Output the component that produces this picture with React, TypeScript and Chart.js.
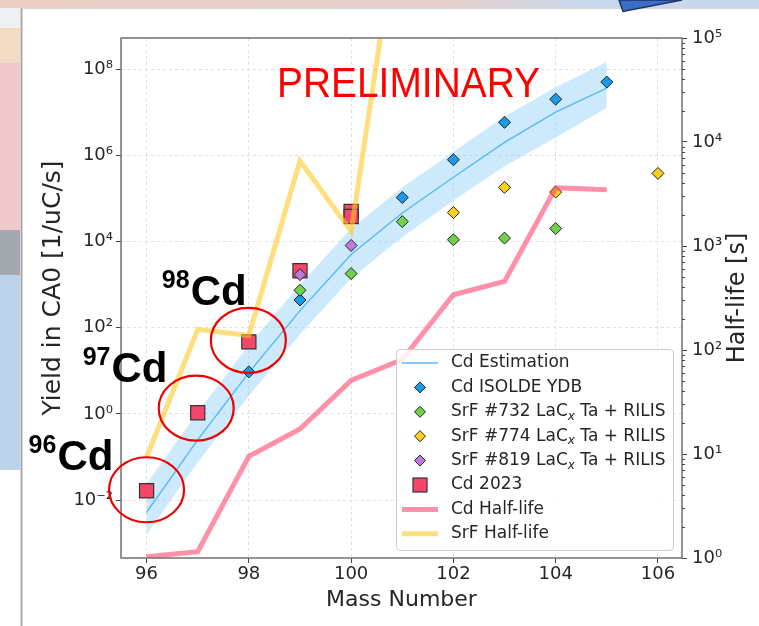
import React, { useEffect, useRef } from 'react';
import { Chart, registerables } from 'chart.js';
Chart.register(...registerables);

// ---------- data ----------
const estMass = [96, 97, 98, 99, 100, 101, 102, 103, 104, 105];
const estYield = [5.2e-3, 0.25, 9.1, 250, 5.0e3, 4.6e4, 3.1e5, 2.0e6, 1.0e7, 3.6e7];
const estHigh = [0.024, 1.1, 40, 1000, 2.0e4, 1.8e5, 1.2e6, 7.9e6, 3.8e7, 1.45e8];
const estLow = [1.6e-3, 0.076, 2.6, 71, 1.4e3, 1.26e4, 8.9e4, 5.6e5, 2.6e6, 1.26e7];

const ydbMass = [98, 99, 101, 102, 103, 104, 105];
const ydbYield = [9.5, 440, 1.05e5, 7.9e5, 5.8e6, 2.0e7, 5.0e7];

const srf732Mass = [99, 100, 101, 102, 103, 104];
const srf732Yield = [740, 1.8e3, 2.9e4, 1.1e4, 1.2e4, 2.0e4];

const srf774Mass = [102, 103, 104, 106];
const srf774Yield = [4.7e4, 1.8e5, 1.4e5, 3.8e5];

const srf819Mass = [99, 100];
const srf819Yield = [1.7e3, 8.1e3];

const cd2023Mass = [96, 97, 98, 99, 100, 100];
const cd2023Yield = [0.0166, 1.07, 47, 2.1e3, 5.0e4, 3.8e4];

const cdHlMass = [96, 97, 98, 99, 100, 101, 102, 103, 104, 105];
const cdHalfLife = [1.03, 1.15, 9.5, 17.4, 51, 81, 340, 457, 3630, 3470];

const srfHlMass = [96, 97, 98, 99, 100, 101];
const srfHalfLife = [9.3, 158, 138, 6600, 1380, 2.5e6];

const massTicks = [96, 98, 100, 102, 104, 106];
const yieldTicks = [1e-2, 1, 1e2, 1e4, 1e6, 1e8];
const yieldTickLabels = ['10⁻²', '10⁰', '10²', '10⁴', '10⁶', '10⁸'];
const hlTicks = [1, 10, 100, 1e3, 1e4, 1e5];
const hlTickLabels = ['10⁰', '10¹', '10²', '10³', '10⁴', '10⁵'];

const highlightedMasses = [96, 97, 98];
const highlightLabels = ['96', '97', '98'];

// ---------- styling ----------
const FONT = "'DejaVu Sans', sans-serif";
const TXT = '#262626';

function pts(xs: number[], ys: number[]) {
  return xs.map((x, i) => ({ x, y: ys[i] }));
}

export default function App() {
  const ref = useRef<HTMLCanvasElement>(null);

  useEffect(() => {
    const canvas = ref.current!;

    const overlay = {
      id: 'overlay',
      beforeDraw(chart: any) {
        const ctx = chart.ctx as CanvasRenderingContext2D;
        const W = chart.width, H = chart.height;
        ctx.save();
        ctx.fillStyle = '#ffffff';
        ctx.fillRect(0, 0, W, H);
        // slide surroundings
        const g = ctx.createLinearGradient(0, 0, W, 0);
        g.addColorStop(0, '#eccfc6');
        g.addColorStop(0.6, '#e6d0cc');
        g.addColorStop(0.76, '#c9d8ec');
        g.addColorStop(1, '#c6d7ee');
        ctx.fillStyle = g;
        ctx.fillRect(0, 0, W, 8);
        const segs: [number, number, string][] = [
          [8, 28, '#eef0f2'], [28, 63, '#f2dcc4'], [63, 230, '#efc9ca'],
          [230, 275, '#a4a9b0'], [275, 470, '#bcd3ec'],
        ];
        for (const [a, b, c] of segs) {
          ctx.fillStyle = c;
          ctx.fillRect(0, a, 20, b - a);
        }
        ctx.fillStyle = '#a8a8a8';
        ctx.fillRect(20.5, 8, 2, H - 8);
        ctx.fillStyle = '#d8d8d8';
        ctx.fillRect(22, 8, W - 22, 1);
        ctx.beginPath();
        ctx.moveTo(619, 0);
        ctx.lineTo(623, 11.5);
        ctx.lineTo(682, 0);
        ctx.closePath();
        ctx.fillStyle = '#3d6cc4';
        ctx.fill();
        ctx.strokeStyle = '#1d3565';
        ctx.lineWidth = 1.5;
        ctx.stroke();
        ctx.restore();
      },
      afterDraw(chart: any) {
        const ctx = chart.ctx as CanvasRenderingContext2D;
        const A = chart.chartArea;
        const xS = chart.scales.x, yS = chart.scales.y, y2S = chart.scales.y2;
        ctx.save();

        // frame
        ctx.strokeStyle = '#707070';
        ctx.lineWidth = 1.5;
        ctx.strokeRect(A.left, A.top, A.right - A.left, A.bottom - A.top);

        // minor ticks on right axis
        ctx.strokeStyle = '#444';
        ctx.lineWidth = 1;
        for (let d = 0; d < 5; d++) {
          for (let m = 2; m <= 9; m++) {
            const yy = Math.round(y2S.getPixelForValue(m * Math.pow(10, d))) + 0.5;
            ctx.beginPath();
            ctx.moveTo(A.right, yy);
            ctx.lineTo(A.right + 3, yy);
            ctx.stroke();
          }
        }

        // axis titles
        ctx.fillStyle = TXT;
        ctx.textAlign = 'center';
        ctx.textBaseline = 'alphabetic';
        ctx.font = `22px ${FONT}`;
        ctx.fillText('Mass Number', (A.left + A.right) / 2, 606);
        ctx.font = `25px ${FONT}`;
        ctx.save();
        ctx.translate(60, 288);
        ctx.rotate(-Math.PI / 2);
        ctx.fillText('Yield in CA0 [1/uC/s]', 0, 0);
        ctx.restore();
        ctx.font = `24px ${FONT}`;
        ctx.save();
        ctx.translate(744, 298);
        ctx.rotate(-Math.PI / 2);
        ctx.fillText('Half-life [s]', 0, 0);
        ctx.restore();

        // legend
        const bw = 277, bh = 201;
        const bx = A.right - 9 - bw, by = A.bottom - 8 - bh;
        ctx.beginPath();
        ctx.roundRect(bx + 0.5, by + 0.5, bw, bh, 4);
        ctx.fillStyle = 'rgba(255,255,255,0.85)';
        ctx.fill();
        ctx.strokeStyle = '#cccccc';
        ctx.lineWidth = 1;
        ctx.stroke();
        const dsets = chart.data.datasets.slice(2);
        dsets.forEach((ds: any, i: number) => {
          const yy = by + 14 + i * 24.4;
          const hx = bx + 24;
          if (ds.showLine) {
            ctx.strokeStyle = ds.borderColor;
            ctx.lineWidth = ds.borderWidth;
            ctx.beginPath();
            ctx.moveTo(bx + 6, yy);
            ctx.lineTo(bx + 42, yy);
            ctx.stroke();
          } else if (ds.pointStyle === 'rect') {
            ctx.fillStyle = ds.pointBackgroundColor;
            ctx.strokeStyle = ds.pointBorderColor;
            ctx.lineWidth = 1.2;
            ctx.fillRect(hx - 7, yy - 7, 14, 14);
            ctx.strokeRect(hx - 7, yy - 7, 14, 14);
          } else {
            ctx.beginPath();
            ctx.moveTo(hx, yy - 5.5);
            ctx.lineTo(hx + 5.5, yy);
            ctx.lineTo(hx, yy + 5.5);
            ctx.lineTo(hx - 5.5, yy);
            ctx.closePath();
            ctx.fillStyle = ds.pointBackgroundColor;
            ctx.fill();
            ctx.strokeStyle = ds.pointBorderColor;
            ctx.lineWidth = 1;
            ctx.stroke();
          }
          ctx.fillStyle = TXT;
          ctx.textAlign = 'left';
          ctx.textBaseline = 'middle';
          const parts = String(ds.label).split('_x');
          const tx = bx + 55;
          ctx.font = `17px ${FONT}`;
          ctx.fillText(parts[0], tx, yy);
          if (parts.length > 1) {
            let w = ctx.measureText(parts[0]).width;
            ctx.font = `italic 12px ${FONT}`;
            ctx.fillText('x', tx + w, yy + 5);
            w += ctx.measureText('x').width;
            ctx.font = `17px ${FONT}`;
            ctx.fillText(parts[1], tx + w, yy);
          }
        });

        // PRELIMINARY stamp
        ctx.fillStyle = '#ff0000';
        ctx.textAlign = 'left';
        ctx.textBaseline = 'alphabetic';
        ctx.font = `42px 'Liberation Sans', sans-serif`;
        const pw = ctx.measureText('PRELIMINARY').width;
        ctx.save();
        ctx.translate(277, 97);
        ctx.scale(263 / pw, 1);
        ctx.fillText('PRELIMINARY', 0, 0);
        ctx.restore();

        // highlighted isotopes: circles + labels
        const labelOffsets: [number, number][] = [[-118, -21], [-115, -31], [-87, -37]];
        const ringShift: [number, number][] = [[0, -1], [-1.5, -4.5], [-0.5, -1.5]];
        highlightedMasses.forEach((m, i) => {
          const idx = cd2023Mass.indexOf(m);
          const cx = xS.getPixelForValue(m);
          const cy = yS.getPixelForValue(cd2023Yield[idx]);
          ctx.beginPath();
          ctx.ellipse(cx + ringShift[i][0], cy + ringShift[i][1], 37.5, 32.5, 0, 0, Math.PI * 2);
          ctx.strokeStyle = '#ee0000';
          ctx.lineWidth = 2.2;
          ctx.stroke();
          const lx = cx + labelOffsets[i][0];
          const ly = cy + labelOffsets[i][1];
          ctx.fillStyle = '#000';
          ctx.font = `bold 25px 'Liberation Sans', sans-serif`;
          ctx.fillText(highlightLabels[i], lx, ly - 17);
          const sw = ctx.measureText(highlightLabels[i]).width;
          ctx.font = `bold 42px 'Liberation Sans', sans-serif`;
          ctx.fillText('Cd', lx + sw + 1, ly);
        });

        ctx.restore();
      },
    };

    const tickFont = { family: FONT, size: 18 };
    const gridColor = '#e0e0e0';

    const chart = new Chart(canvas, {
      type: 'line',
      data: {
        datasets: [
          {
            label: 'band-high', data: pts(estMass, estHigh), yAxisID: 'y', showLine: true,
            borderColor: 'rgba(0,0,0,0)', borderWidth: 0, pointRadius: 0,
            backgroundColor: 'rgba(135,206,250,0.42)', fill: '+1', order: 9,
          },
          {
            label: 'band-low', data: pts(estMass, estLow), yAxisID: 'y', showLine: true,
            borderColor: 'rgba(0,0,0,0)', borderWidth: 0, pointRadius: 0, fill: false, order: 10,
          },
          {
            label: 'Cd Estimation', data: pts(estMass, estYield), yAxisID: 'y', showLine: true,
            borderColor: '#55b8f5', borderWidth: 1.4, pointRadius: 0, fill: false, order: 8,
          },
          {
            label: 'Cd ISOLDE YDB', data: pts(ydbMass, ydbYield), yAxisID: 'y', showLine: false,
            pointStyle: 'rectRot', pointRadius: 6, pointBackgroundColor: '#1a9be8',
            pointBorderColor: '#222', pointBorderWidth: 1, order: 6,
          },
          {
            label: 'SrF #732 LaC_x Ta + RILIS', data: pts(srf732Mass, srf732Yield), yAxisID: 'y', showLine: false,
            pointStyle: 'rectRot', pointRadius: 6, pointBackgroundColor: '#6ed24a',
            pointBorderColor: '#222', pointBorderWidth: 1, order: 5,
          },
          {
            label: 'SrF #774 LaC_x Ta + RILIS', data: pts(srf774Mass, srf774Yield), yAxisID: 'y', showLine: false,
            pointStyle: 'rectRot', pointRadius: 6, pointBackgroundColor: '#ffcf1f',
            pointBorderColor: '#222', pointBorderWidth: 1, order: 4,
          },
          {
            label: 'SrF #819 LaC_x Ta + RILIS', data: pts(srf819Mass, srf819Yield), yAxisID: 'y', showLine: false,
            pointStyle: 'rectRot', pointRadius: 6, pointBackgroundColor: '#c07ae0',
            pointBorderColor: '#222', pointBorderWidth: 1, order: 3,
          },
          {
            label: 'Cd 2023', data: pts(cd2023Mass, cd2023Yield), yAxisID: 'y', showLine: false,
            pointStyle: 'rect', pointRadius: 10, pointBackgroundColor: '#f5456b',
            pointBorderColor: '#333', pointBorderWidth: 1.2, order: 7,
          },
          {
            label: 'Cd Half-life', data: pts(cdHlMass, cdHalfLife), yAxisID: 'y2', showLine: true,
            borderColor: 'rgba(255,60,100,0.57)', borderWidth: 5, pointRadius: 0, fill: false, order: 2,
          },
          {
            label: 'SrF Half-life', data: pts(srfHlMass, srfHalfLife), yAxisID: 'y2', showLine: true,
            borderColor: 'rgba(255,200,40,0.6)', borderWidth: 5, pointRadius: 0, fill: false, order: 1,
          },
        ],
      },
      options: {
        responsive: false,
        animation: false,
        devicePixelRatio: 1,
        events: [],
        layout: { padding: { top: 38, left: 0, right: 0, bottom: 0 } },
        elements: { line: { tension: 0 } },
        plugins: { legend: { display: false }, tooltip: { enabled: false } },
        scales: {
          x: {
            type: 'linear', position: 'bottom', min: 95.5, max: 106.47,
            afterBuildTicks: (s: any) => { s.ticks = massTicks.map((v) => ({ value: v })); },
            afterFit: (s: any) => { s.height = 68; },
            ticks: { font: tickFont, color: TXT, padding: 1, maxRotation: 0, autoSkip: false, callback: (v: any) => String(v) },
            grid: { color: gridColor, lineWidth: 1, tickLength: 5, tickColor: '#444', tickWidth: 1, tickBorderDash: [] },
            border: { display: false, dash: [3, 3] },
          },
          y: {
            type: 'logarithmic', position: 'left', min: 4.57e-4, max: 5.25e8,
            afterBuildTicks: (s: any) => { s.ticks = yieldTicks.map((v) => ({ value: v })); },
            afterFit: (s: any) => { s.width = 121; },
            ticks: {
              font: tickFont, color: TXT, padding: 3, autoSkip: false,
              callback: (v: any) => { const i = yieldTicks.indexOf(Number(v)); return i >= 0 ? yieldTickLabels[i] : ''; },
            },
            grid: { color: gridColor, lineWidth: 1, tickLength: 5, tickColor: '#444', tickWidth: 1, tickBorderDash: [] },
            border: { display: false, dash: [3, 3] },
          },
          y2: {
            type: 'logarithmic', position: 'right', min: 1, max: 1e5,
            afterBuildTicks: (s: any) => { s.ticks = hlTicks.map((v) => ({ value: v })); },
            afterFit: (s: any) => { s.width = 77; },
            ticks: {
              font: tickFont, color: TXT, padding: 5, autoSkip: false,
              callback: (v: any) => { const i = hlTicks.indexOf(Number(v)); return i >= 0 ? hlTickLabels[i] : ''; },
            },
            grid: { drawOnChartArea: false, tickLength: 5, tickColor: '#444', tickWidth: 1, tickBorderDash: [] },
            border: { display: false },
          },
        },
      },
      plugins: [overlay],
    } as any);

    return () => chart.destroy();
  }, []);

  return (
    <div style={{ position: 'absolute', left: 0, top: 0, width: 759, height: 626 }}>
      <canvas ref={ref} width={759} height={626} style={{ display: 'block', width: 759, height: 626 }} />
    </div>
  );
}
